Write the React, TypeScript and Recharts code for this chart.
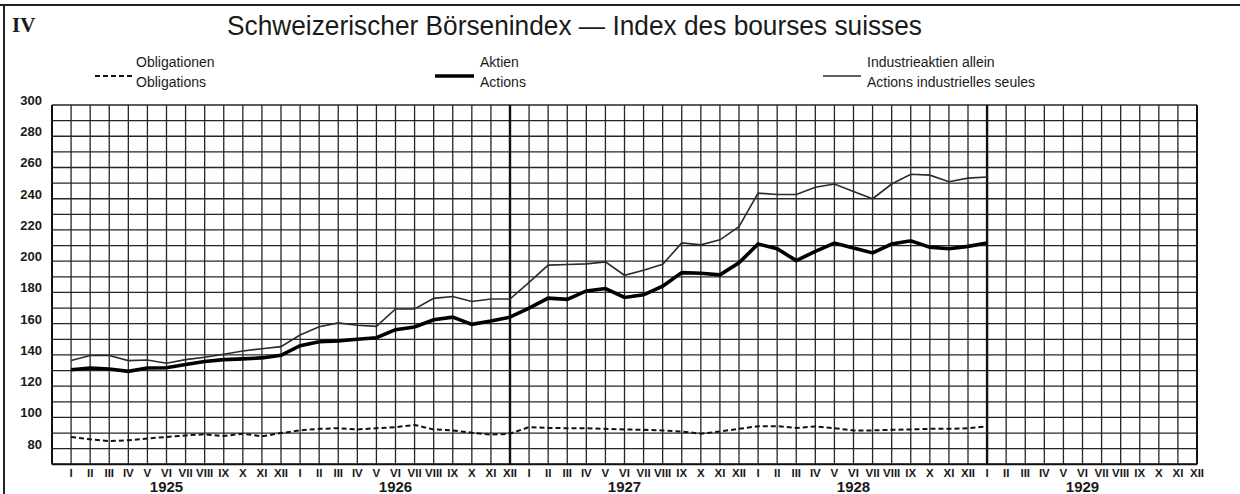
import React from 'react';
import { LineChart, Line, XAxis, YAxis, CartesianGrid, ReferenceLine } from 'recharts';

const ROMAN = ['I', 'II', 'III', 'IV', 'V', 'VI', 'VII', 'VIII', 'IX', 'X', 'XI', 'XII'];
const YEARS = [1925, 1926, 1927, 1928, 1929];
const Y_TICKS = [70, 80, 90, 100, 110, 120, 130, 140, 150, 160, 170, 180, 190, 200, 210, 220, 230, 240, 250, 260, 270, 280, 290, 300];
const Y_LABELS = [80, 100, 120, 140, 160, 180, 200, 220, 240, 260, 280, 300];

// Monthly values, January 1925 .. January 1929
const obligations = [
  87.5, 86.0, 84.8, 85.4, 86.5, 87.5, 88.5, 89.2, 88.1, 89.6, 87.9, 90.0,
  91.7, 92.7, 93.1, 92.3, 93.1, 93.8, 95.2, 92.3, 91.7, 90.2, 89.0, 89.6,
  93.8, 93.3, 93.1, 93.1, 92.7, 92.3, 92.1, 91.7, 91.0, 89.6, 91.0, 92.7,
  94.4, 94.4, 93.3, 94.2, 93.1, 91.7, 91.7, 92.1, 92.3, 92.7, 92.7, 93.1,
  94.2,
];
const aktien = [
  130.5, 131.6, 131.0, 129.5, 131.6, 131.8, 133.9, 135.8, 137.0, 137.5, 138.1, 139.8,
  145.9, 148.4, 149.0, 150.0, 151.0, 156.2, 157.9, 162.5, 164.2, 159.6, 161.7, 164.2,
  170.0, 176.4, 175.6, 181.0, 182.5, 176.8, 178.5, 184.0, 192.7, 192.3, 191.3, 199.0,
  211.0, 208.0, 200.4, 206.3, 211.6, 208.4, 205.3, 211.0, 213.1, 209.0, 208.0, 209.5,
  211.6,
];
const industrie = [
  136.4, 139.6, 139.6, 136.4, 136.8, 134.7, 137.0, 138.5, 140.5, 142.5, 144.0, 145.3,
  152.8, 158.0, 160.5, 159.0, 158.3, 169.4, 169.4, 176.2, 177.4, 174.2, 175.8, 175.8,
  186.5, 197.5, 197.9, 198.3, 199.6, 191.0, 194.2, 198.0, 211.7, 210.5, 213.7, 222.1,
  243.6, 242.7, 242.7, 247.3, 249.4, 244.6, 240.0, 249.4, 255.7, 255.1, 250.9, 253.2,
  253.9,
];

const data = obligations.map((v, i) => ({ m: i, obl: v, akt: aktien[i], ind: industrie[i] }));
const X_TICKS = [-1, ...YEARS.flatMap((_, y) => ROMAN.map((_, k) => y * 12 + k))];

const SANS = '"Liberation Sans", Arial, "DejaVu Sans", sans-serif';
const INK = '#1a1a1a';

const XTick = (props: any) => {
  const { x, y, payload } = props;
  const idx = payload.value;
  if (idx < 0) return <g />;
  const k = idx % 12;
  const yr = Math.floor(idx / 12);
  return (
    <g>
      <text x={x} y={y + 12.5} textAnchor="middle" fontFamily={SANS} fontWeight="bold" fontSize={11.5} fill={INK}>
        {ROMAN[k]}
      </text>
      {k === 5 && (
        <text x={x} y={y + 27.3} textAnchor="middle" fontFamily={SANS} fontWeight="bold" fontSize={15} fill={INK}>
          {YEARS[yr]}
        </text>
      )}
    </g>
  );
};

const YTick = (props: any) => {
  const { x, y, payload, anchor } = props;
  if (!Y_LABELS.includes(payload.value)) return <g />;
  return (
    <text x={x} y={y} textAnchor={anchor} fontFamily={SANS} fontWeight="bold" fontSize={13} fill={INK}>
      {payload.value}
    </text>
  );
};

export default function App() {
  return (
    <div style={{ position: 'fixed', left: 0, top: 0, width: 1240, height: 494, background: '#fff' }}>
      <LineChart width={1240} height={494} data={data} margin={{ top: 105, right: 0, bottom: 0, left: 0 }}>
        <CartesianGrid yAxisId="l" stroke="#262626" strokeWidth={1.3} vertical horizontal />
        <XAxis
          dataKey="m"
          type="number"
          domain={[-1, 59]}
          ticks={X_TICKS}
          interval={0}
          height={29.7}
          axisLine={false}
          tickLine={false}
          tickSize={0}
          tickMargin={0}
          tick={<XTick />}
        />
        <YAxis
          yAxisId="l"
          orientation="left"
          domain={[70, 300]}
          ticks={Y_TICKS}
          interval={0}
          width={52}
          axisLine={false}
          tickLine={false}
          tickSize={0}
          tickMargin={10}
          tick={<YTick anchor="end" />}
        />
        <YAxis
          yAxisId="r"
          orientation="right"
          domain={[70, 300]}
          ticks={Y_TICKS}
          interval={0}
          width={43}
          axisLine={false}
          tickLine={false}
          tickSize={0}
          tickMargin={6}
          tick={<YTick anchor="start" />}
        />
        <ReferenceLine yAxisId="l" x={23} stroke="#111" strokeWidth={2.4} />
        <ReferenceLine yAxisId="l" x={48} stroke="#111" strokeWidth={2.4} />
        <ReferenceLine yAxisId="l" x={-1} stroke="#111" strokeWidth={2} />
        <ReferenceLine yAxisId="l" x={59} stroke="#111" strokeWidth={2} />
        <ReferenceLine yAxisId="l" y={70} stroke="#111" strokeWidth={2} />
        <Line yAxisId="l" dataKey="obl" type="linear" stroke="#111" strokeWidth={2} strokeDasharray="5 3" dot={false} isAnimationActive={false} />
        <Line yAxisId="l" dataKey="ind" type="linear" stroke="#2b2b2b" strokeWidth={1.6} dot={false} isAnimationActive={false} />
        <Line yAxisId="l" dataKey="akt" type="linear" stroke="#000" strokeWidth={3.6} dot={false} isAnimationActive={false} />
      </LineChart>
      <svg width={1240} height={494} style={{ position: 'absolute', left: 0, top: 0, pointerEvents: 'none' }}>
        <line x1={0} y1={5} x2={1240} y2={5} stroke="#222" strokeWidth={2} />
        <line x1={4} y1={5} x2={4} y2={494} stroke="#222" strokeWidth={2} />
        <text x={12} y={32} fontFamily='"Liberation Serif", "DejaVu Serif", serif' fontWeight="bold" fontSize={21} fill={INK}>
          IV
        </text>
        <text x={227} y={35} fontFamily={SANS} fontSize={27} fill={INK} textLength={695} lengthAdjust="spacingAndGlyphs">
          Schweizerischer Börsenindex — Index des bourses suisses
        </text>
        <line x1={95} y1={76} x2={133} y2={76} stroke="#111" strokeWidth={2} strokeDasharray="5 3" />
        <text x={136} y={67} fontFamily={SANS} fontSize={14} fill={INK}>Obligationen</text>
        <text x={136} y={87} fontFamily={SANS} fontSize={14} fill={INK}>Obligations</text>
        <line x1={435} y1={76} x2={474} y2={76} stroke="#000" strokeWidth={3.6} />
        <text x={480} y={67} fontFamily={SANS} fontSize={14} fill={INK}>Aktien</text>
        <text x={480} y={87} fontFamily={SANS} fontSize={14} fill={INK}>Actions</text>
        <line x1={823} y1={76} x2={861} y2={76} stroke="#2b2b2b" strokeWidth={1.6} />
        <text x={867} y={67} fontFamily={SANS} fontSize={14} fill={INK}>Industrieaktien allein</text>
        <text x={867} y={87} fontFamily={SANS} fontSize={14} fill={INK}>Actions industrielles seules</text>
      </svg>
    </div>
  );
}
